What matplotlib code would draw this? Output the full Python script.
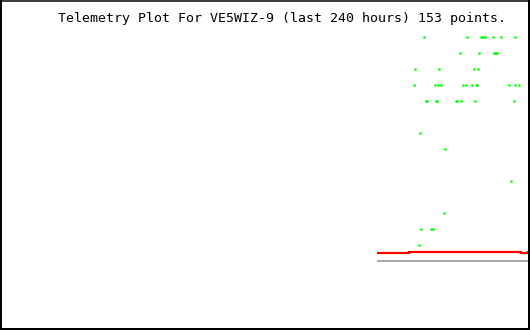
import matplotlib
matplotlib.use("Agg")
import matplotlib.pyplot as plt

# ---- data (plot units: time position, value position) ----
title = "Telemetry Plot For VE5WIZ-9 (last 240 hours) 153 points."

green_t = [423, 466, 480, 481, 483, 484, 492, 500, 514,
           459, 478, 493, 494, 495, 496,
           414, 438, 473, 477,
           413, 434, 437, 440, 462, 465, 471, 475, 476, 508, 514, 518,
           425, 426, 435, 436, 455, 456, 460, 474, 513,
           419, 444, 510, 443,
           420, 430, 432,
           418]
green_v = [36.5] * 9 + [52.5] * 6 + [68.5] * 4 + [84.5] * 12 + [100.5] * 9 + \
          [132.5, 148.5, 180.5, 212.5] + [228.5] * 3 + [244.5]

red_t = [376, 408, 520, 527, 530]
red_v = [252.5, 251.5, 252.5, 251.5, 251.5]

gray_t = [376, 530]
gray_v = [260.5, 260.5]

W, H = 530, 330
fig = plt.figure(figsize=(W / 100, H / 100), dpi=100)
ax = fig.add_axes([0, 0, 1, 1])
ax.set_xlim(-0.5, W - 0.5)
ax.set_ylim(H - 0.5, -0.5)
ax.axis("off")

px = 72 / 100  # points per pixel

ax.plot(gray_t, gray_v, color="#aaaaaa", lw=2 * px, solid_capstyle="butt")
ax.plot(red_t, red_v, color="#ff0000", lw=2.2 * px, drawstyle="steps-post",
        solid_capstyle="butt")
ax.plot(green_t, green_v, ls="none", marker="s", markersize=1.6 * px,
        markeredgewidth=0.6 * px, color="#00ff00", antialiased=False)

# border
ax.plot([0.5, 0.5], [-0.5, H - 0.5], color="black", lw=2 * px)
ax.plot([W - 1.5, W - 1.5], [-0.5, H - 0.5], color="black", lw=2 * px)
ax.plot([-0.5, W - 0.5], [H - 1.5, H - 1.5], color="black", lw=2 * px)
ax.plot([-0.5, W - 0.5], [0.5, 0.5], color="black", lw=1.5 * px)

ax.text(58.0, 21.5, title, ha="left", va="baseline",
        family="DejaVu Sans Mono", fontsize=9.5, color="black")

fig.savefig("out.png", dpi=100)
